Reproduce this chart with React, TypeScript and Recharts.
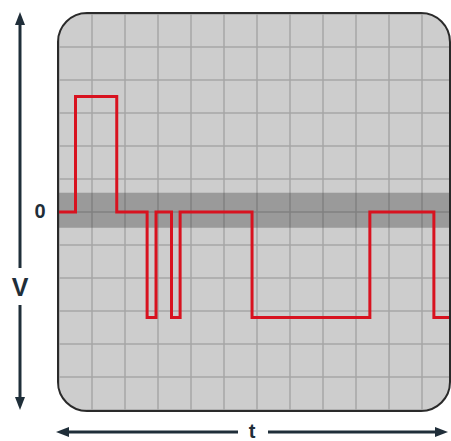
import { LineChart, Line, XAxis, YAxis, CartesianGrid, ReferenceArea } from "recharts";

// signal transitions, in grid divisions (x) and volts-ish divisions (y)
const times = [0, 0.5, 1.75, 2.67, 2.94, 3.41, 3.67, 5.85, 9.42, 11.36, 12];
const levels = [0, 3.5, 0, -3.2, 0, -3.2, 0, -3.2, 0, -3.2, -3.2];

const xTicks = [0, 1, 2, 3, 4, 5, 6, 7, 8, 9, 10, 11, 12];
const yTicks = [-6, -5, -4, -3, -2, -1, 0, 1, 2, 3, 4, 5, 6];
const zeroBand = [-0.48, 0.58];

const data = times.map((t, i) => ({ t, v: levels[i] }));

const ink = "#1f2e39";
const labelFont = "'Liberation Sans', Arial, sans-serif";

const App = () => {
  return (
    <div style={{ position: "absolute", left: 0, top: 0, width: 451, height: 441, overflow: "hidden", background: "#fff" }}>
      {/* axis arrows */}
      <svg width={451} height={441} style={{ position: "absolute", left: 0, top: 0 }}>
        <line x1={20} y1={22} x2={20} y2={268} stroke={ink} strokeWidth={3} />
        <line x1={20} y1={305} x2={20} y2={400} stroke={ink} strokeWidth={3} />
        <polygon points="20,12 15,25 25,25" fill={ink} />
        <polygon points="20,410 15,397 25,397" fill={ink} />
        <line x1={66} y1={432} x2={238} y2={432} stroke={ink} strokeWidth={3} />
        <line x1={268} y1={432} x2={438} y2={432} stroke={ink} strokeWidth={3} />
        <polygon points="56,432 69,427 69,437" fill={ink} />
        <polygon points="448,432 435,427 435,437" fill={ink} />
        <text x={40} y={218} textAnchor="middle" fontFamily={labelFont} fontWeight={700} fontSize={20} fill={ink}>0</text>
        <text x={20} y={296} textAnchor="middle" fontFamily={labelFont} fontWeight={700} fontSize={25} fill={ink}>V</text>
        <text x={252} y={438} textAnchor="middle" fontFamily={labelFont} fontWeight={700} fontSize={20} fill={ink}>t</text>
      </svg>

      {/* scope screen */}
      <div
        style={{
          position: "absolute",
          left: 57,
          top: 12,
          width: 394,
          height: 400,
          boxSizing: "border-box",
          border: "2px solid #2a2a2a",
          borderRadius: 30,
          overflow: "hidden",
          background: "#cdcdcd",
        }}
      >
        <div style={{ position: "absolute", left: 0, top: 0 }}>
          <LineChart width={396} height={396} data={data} margin={{ top: 0, right: 0, bottom: 0, left: 0 }}>
            <XAxis dataKey="t" type="number" domain={[0, 12]} ticks={xTicks} hide />
            <YAxis type="number" domain={[-6, 6]} ticks={yTicks} hide />
            <CartesianGrid stroke="#a6a6a6" strokeWidth={1.5} />
            <ReferenceArea y1={zeroBand[0]} y2={zeroBand[1]} fill="#404040" fillOpacity={0.36} stroke="none" ifOverflow="visible" />
            <Line
              type="stepAfter"
              dataKey="v"
              stroke="#d8121f"
              strokeWidth={3}
              dot={false}
              isAnimationActive={false}
            />
          </LineChart>
        </div>
      </div>
    </div>
  );
};

export default App;
